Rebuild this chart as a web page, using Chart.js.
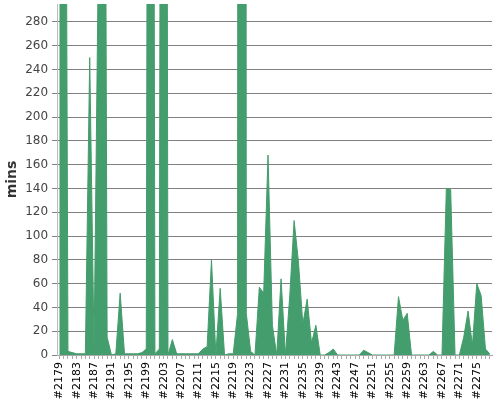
<!DOCTYPE html>
<html>
<head>
<meta charset="utf-8">
<script src="https://cdn.jsdelivr.net/npm/chart.js@4"></script>
<style>
  html, body { margin: 0; padding: 0; background: #fff; }
  #contenedor { width: 500px; height: 400px; }
</style>
</head>
<body>
<div id="contenedor"><canvas id="grafMins"></canvas></div>
<script>
let builds = ["#2179","#2180","#2181","#2182","#2183","#2184","#2185","#2186","#2187","#2188",
  "#2189","#2190","#2191","#2192","#2193","#2194","#2195","#2196","#2197","#2198",
  "#2199","#2200","#2201","#2202","#2203","#2204","#2205","#2206","#2207","#2208",
  "#2209","#2210","#2211","#2212","#2213","#2214","#2215","#2216","#2217","#2218",
  "#2219","#2220","#2221","#2222","#2223","#2224","#2225","#2226","#2227","#2228",
  "#2229","#2230","#2231","#2232","#2233","#2234","#2235","#2236","#2237","#2238",
  "#2239","#2240","#2241","#2242","#2243","#2244","#2245","#2246","#2247","#2248",
  "#2249","#2250","#2251","#2252","#2253","#2254","#2255","#2256","#2257","#2258",
  "#2259","#2260","#2261","#2262","#2263","#2264","#2265","#2266","#2267","#2268",
  "#2269","#2270","#2271","#2272","#2273","#2274","#2275","#2276","#2277","#2278"]

// minutos por build (los picos enormes se salen del grafico)
let minutos = [1000, 1000, 3, 2, 1, 1, 1, 250, 5, 340,
  1100, 15, 0, 1, 52, 1, 1, 1, 1, 2,
  5, 1800, 1, 5, 2000, 0, 13, 1, 1, 1,
  1, 1, 1, 5, 7, 80, 0, 56, 0, 1,
  1, 35, 8000, 35, 3, 0, 57, 52, 168, 25,
  0, 64, 0, 50, 113, 78, 26, 47, 10, 25,
  0, 0, 2, 5, 0, 0, 0, 0, 0, 0,
  4, 2, 0, 0, 0, 0, 0, 0, 49, 29,
  35, 0, 0, 0, 0, 0, 3, 0, 0, 140,
  139, 0, 0, 15, 37, 8, 60, 50, 5, 1]

let yMax = 295
let yPaso = 20
let cadaCuantos = 4

let verde = 'rgb(68,157,108)'

new Chart(document.querySelector('#grafMins'), {
    type: 'line',
    data: {
        labels: builds,
        datasets: [{
            label: 'mins',
            data: minutos,
            fill: 'origin',
            tension: 0,
            backgroundColor: verde,
            borderColor: verde,
            borderWidth: 1,
            pointRadius: 0
        }]
    },
    options: {
        responsive: true,
        maintainAspectRatio: false,
        animation: false,
        layout: { padding: { top: 4, right: 8, left: 0, bottom: 0 } },
        plugins: {
            legend: { display: false },
            tooltip: { enabled: false }
        },
        scales: {
            x: {
                offset: true,
                border: { color: '#aaa' },
                grid: { drawOnChartArea: false, drawTicks: true, tickLength: 4, color: '#aaa' },
                ticks: {
                    autoSkip: false,
                    minRotation: 90,
                    maxRotation: 90,
                    padding: 3,
                    color: '#000',
                    font: { family: 'DejaVu Sans', size: 11 },
                    callback: function (valor, i) {
                        return i % cadaCuantos == 0 ? builds[i] : ''
                    }
                },
                afterFit: function (s) {
                    s.height = 45
                    s.paddingLeft = 0
                    s.paddingRight = 0
                }
            },
            y: {
                min: 0,
                max: yMax,
                border: { color: '#bbb' },
                grid: { color: '#808080', borderDash: [2, 2], tickLength: 5 },
                ticks: {
                    stepSize: yPaso,
                    padding: 4,
                    color: '#444',
                    font: { family: 'DejaVu Sans', size: 12 }
                },
                afterBuildTicks: function (s) {
                    s.ticks = s.ticks.filter(t => t.value % yPaso == 0)
                },
                afterFit: function (s) {
                    s.width = 57.1
                    s.paddingTop = 0
                    s.paddingBottom = 0
                },
                title: {
                    display: true,
                    text: 'mins',
                    color: '#333',
                    padding: { top: 4, bottom: 0 },
                    font: { family: 'DejaVu Sans', size: 14, weight: 'bold' }
                }
            }
        }
    }
})
</script>
</body>
</html>
